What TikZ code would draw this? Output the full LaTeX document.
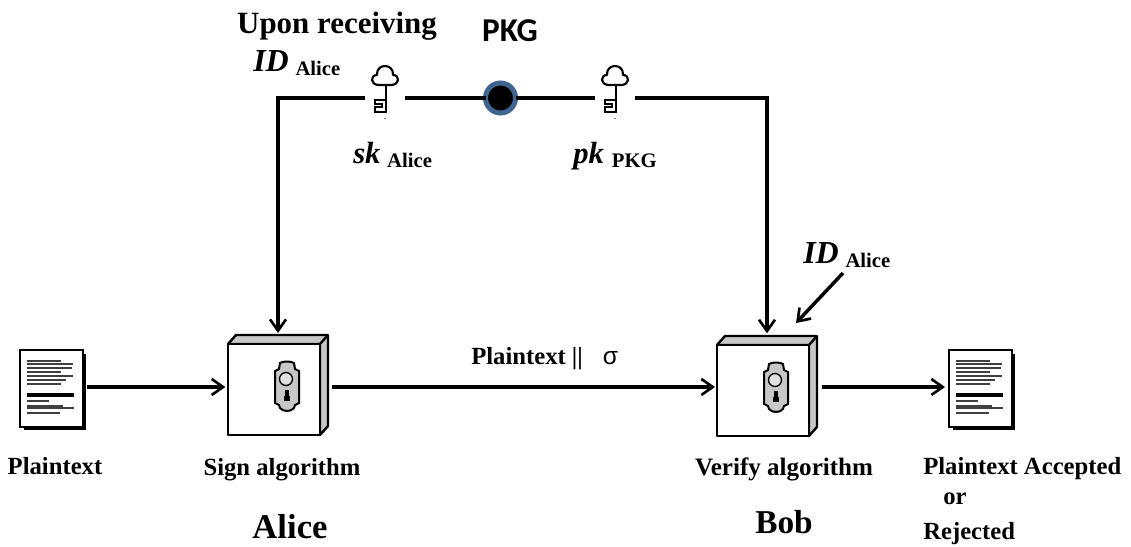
\documentclass[tikz,border=0pt]{standalone}
\usetikzlibrary{arrows.meta}
\usepackage{fontspec}
\setmainfont{Liberation Serif}
\newfontfamily\pkgfont{Carlito}
\newfontfamily\sigfont{Liberation Sans}
\newcommand{\fs}[1]{\fontsize{#1}{#1}\selectfont}
\newcommand{\idlabel}[2]{{\bfseries\itshape\fs{#1}#2}}
\newcommand{\sublabel}[1]{\raisebox{-3pt}{\normalfont\bfseries\fs{15.5}#1}}
\definecolor{facegray}{gray}{0.78}
\definecolor{dotblue}{HTML}{3F648F}
\tikzset{
  x=0.75pt,y=-0.75pt,
  barb/.tip={Straight Barb[length=8.5pt,width=12pt,line width=2pt]},
  flow/.style={line width=2.6pt,-barb},
  wire/.style={line width=2.3pt},
  lbl/.style={inner sep=0pt,font=\bfseries\fs{18.5}},
  slot/.style={inner sep=0pt,outer sep=0pt,minimum width=30pt,minimum height=30pt},
  boxslot/.style={inner sep=0pt,outer sep=0pt,minimum width=75pt},
  docslot/.style={inner sep=0pt,outer sep=0pt,minimum width=49.5pt,minimum height=57.75pt},
  lockbox/.pic={
    \draw[line width=1.8pt,fill=facegray,line join=round] (0,0)--(8,-9)--(100,-9)--(100,82)--(92,91)--(92,0)--cycle;
    \draw[line width=1.8pt,line join=round] (92,0)--(100,-9);
    \draw[line width=2.1pt,fill=white,line join=round] (0,0) rectangle (92,91);
    \begin{scope}[shift={(59,43)}]
      \draw[line width=1.5pt,fill=facegray] (-7,-24) .. controls (-4,-26) and (4,-26) .. (7,-24)
        -- (8,-18) -- (12,-16) -- (12,16) -- (8,18) -- (7,21)
        .. controls (4,25) and (-4,25) .. (-7,21) -- (-8,18) -- (-12,16) -- (-12,-16) -- (-8,-18) -- cycle;
      \draw[line width=1pt,fill=facegray!55] (-1,-8) circle[radius=6.5];
      \fill (-2.5,3) rectangle (1.5,9);
      \fill (-3.5,9) rectangle (2.5,14);
    \end{scope}
  },
  docpage/.pic={
    \fill (4,4) rectangle (66,80);
    \draw[line width=1.8pt,fill=white] (0,0) rectangle (63,77);
    \foreach \yy/\xx in {11/41,14/53,18/52,22/41,26/53,30/46,34/41,51/29,56/43,58/54,63/40}
      \draw[line width=1.4pt,black!75] (7,\yy)--(\xx,\yy);
    \draw[line width=2.3pt] (7,45)--(54,45);
  },
  keyicon/.pic={
    \draw[line width=1.6pt,line join=round] (-6,-13)
      .. controls (-15,-13) and (-15,-23) .. (-8,-23)
      .. controls (-9,-35) and (9,-35) .. (8,-23)
      .. controls (15,-23) and (15,-13) .. (6,-13) -- cycle;
    \draw[line width=2pt] (1,-13) -- (1,15);
    \draw[line width=1.5pt,line join=miter] (1,2)--(-10,2)--(-10,5.5)--(-3,5.5)--(-3,9)--(-10,9)--(-10,14)--(1,14);
    \fill[black!50] (-0.7,19.5) rectangle (.7,20.5);
  }
}
\begin{document}
\begin{tikzpicture}
\useasboundingbox (0,0) rectangle (1131,546);
% anchors
\node[boxslot,minimum height=78pt] (box1) at (278,387) {};
\node[boxslot,minimum height=76.5pt] (box2) at (767,387) {};
\node[docslot] (doc1) at (53,387) {};
\node[docslot] (doc2) at (982,387) {};
\node[slot] (key1) at (385,98) {};
\node[slot] (key2) at (615,98) {};
\node[circle,fill=black,draw=dotblue,line width=3.75pt,minimum size=22.5pt,inner sep=0pt,outer sep=0pt] (pkg) at (500.5,98) {};
\coordinate (cornerL) at (box1.north |- pkg.center);
\coordinate (cornerR) at (box2.north |- pkg.center);
\coordinate (idtail) at (843,273);
\coordinate (idhead) at (796,323);
% shapes
\pic at (228,344) {lockbox};
\pic at (717,345) {lockbox};
\pic at (20,350) {docpage};
\pic at (949,350) {docpage};
\pic at (key1.center) {keyicon};
\pic at (key2.center) {keyicon};
% connectors
\draw[wire,-barb,shorten >=1.5pt] (key1.west) -- (cornerL) -- (box1.north);
\draw[wire] (key1.east) -- (pkg.west);
\draw[wire] (pkg.east) -- (key2.west);
\draw[wire,-barb,shorten >=2pt] (key2.east) -- (cornerR) -- (box2.north);
\draw[flow,shorten <=1pt,shorten >=2pt] (doc1.east) -- (box1.west);
\draw[flow,shorten <=3pt,shorten >=1.5pt] (box1.east) -- (box2.west);
\draw[flow,shorten <=3.75pt,shorten >=3pt] (box2.east) -- (doc2.west);
\draw[flow] (idtail) -- (idhead);
% labels
\node[inner sep=0pt,anchor=base,font=\bfseries\fs{23.2}] (tUpon) at (337,33) {Upon receiving};
\node[inner sep=0pt,anchor=base west] (tID1) at (253,71) {\idlabel{24}{ID}\hspace{5pt}\sublabel{Alice}};
\node[inner sep=0pt,anchor=base,font=\pkgfont\bfseries\fs{25}] (tPKG) at (510,41) {PKG};
\node[inner sep=0pt,anchor=base west] (tsk) at (353,163) {\idlabel{23}{sk}\hspace{5pt}\sublabel{Alice}};
\node[inner sep=0pt,anchor=base west] (tpk) at (573,163) {\idlabel{23}{pk}\hspace{6pt}\sublabel{PKG}};
\node[inner sep=0pt,anchor=base west] (tID2) at (803,263) {\idlabel{24}{ID}\hspace{5pt}\sublabel{Alice}};
\node[lbl,anchor=base west] (tMsg) at (471,364) {Plaintext ||\hspace{15pt}{\normalfont\sigfont σ}};
\node[lbl,anchor=base] (tP) at (55,474) {Plaintext};
\node[lbl,anchor=base] (tS) at (282,475) {Sign algorithm};
\node[lbl,anchor=base,font=\bfseries\fs{18.8}] (tV) at (784,475) {Verify algorithm};
\node[lbl,anchor=base west] (tA) at (923,474) {Plaintext Accepted};
\node[lbl,anchor=base west] (tO) at (943,504) {or};
\node[lbl,anchor=base west] (tR) at (923,539) {Rejected};
\node[inner sep=0pt,anchor=base,font=\bfseries\fs{26}] (tAlice) at (290,538) {Alice};
\node[inner sep=0pt,anchor=base,font=\bfseries\fs{25}] (tBob) at (784,533) {Bob};
\end{tikzpicture}
\end{document}
